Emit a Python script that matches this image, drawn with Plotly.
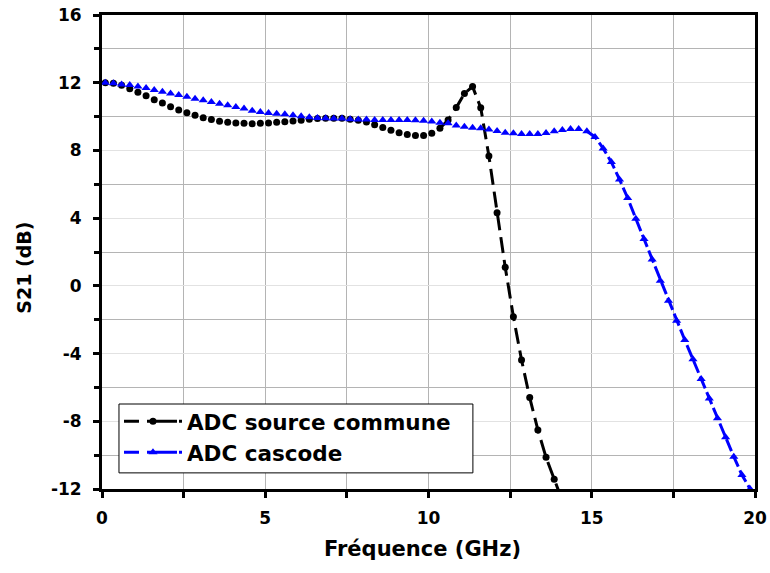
import plotly.graph_objects as go

# Frequency (GHz) sample points
freq_cs = [0.1, 0.35, 0.6, 0.85, 1.1, 1.35, 1.6, 1.85, 2.1, 2.35, 2.6, 2.85, 3.1, 3.35, 3.6, 3.85,
           4.1, 4.35, 4.6, 4.85, 5.1, 5.35, 5.6, 5.85, 6.1, 6.35, 6.6, 6.85, 7.1, 7.35, 7.6, 7.85,
           8.1, 8.35, 8.6, 8.85, 9.1, 9.35, 9.6, 9.85, 10.1, 10.35, 10.6, 10.85, 11.1, 11.35, 11.6,
           11.85, 12.1, 12.35, 12.6, 12.85, 13.1, 13.35, 13.6, 13.85, 14.1]
s21_cs = [12.0, 11.97, 11.85, 11.65, 11.43, 11.23, 11.0, 10.8, 10.58, 10.39, 10.23, 10.08, 9.93, 9.82,
          9.72, 9.66, 9.62, 9.6, 9.58, 9.6, 9.62, 9.66, 9.7, 9.74, 9.78, 9.84, 9.88, 9.9, 9.9, 9.9,
          9.84, 9.78, 9.68, 9.52, 9.35, 9.19, 9.05, 8.94, 8.88, 8.88, 9.02, 9.31, 9.8, 10.53, 11.36,
          11.77, 10.52, 7.67, 4.32, 1.10, -1.82, -4.38, -6.6, -8.51, -10.13, -11.43, -12.7]

freq_cc = [0.1, 0.35, 0.6, 0.85, 1.1, 1.35, 1.6, 1.85, 2.1, 2.35, 2.6, 2.85, 3.1, 3.35, 3.6, 3.85,
           4.1, 4.35, 4.6, 4.85, 5.1, 5.35, 5.6, 5.85, 6.1, 6.35, 6.6, 6.85, 7.1, 7.35, 7.6, 7.85,
           8.1, 8.35, 8.6, 8.85, 9.1, 9.35, 9.6, 9.85, 10.1, 10.35, 10.6, 10.85, 11.1, 11.35, 11.6,
           11.85, 12.1, 12.35, 12.6, 12.85, 13.1, 13.35, 13.6, 13.85, 14.1, 14.35, 14.6, 14.85,
           15.1, 15.35, 15.6, 15.85, 16.1, 16.35, 16.6, 16.85, 17.1, 17.35, 17.6, 17.85, 18.1,
           18.35, 18.6, 18.85, 19.1, 19.35, 19.6, 19.85, 20.1]
s21_cc = [12.0, 11.97, 11.9, 11.86, 11.78, 11.69, 11.57, 11.47, 11.37, 11.27, 11.17, 11.06, 10.96,
          10.86, 10.76, 10.67, 10.57, 10.47, 10.35, 10.27, 10.21, 10.17, 10.13, 10.08, 10.02, 9.96,
          9.92, 9.9, 9.88, 9.88, 9.84, 9.82, 9.82, 9.8, 9.8, 9.8, 9.8, 9.8, 9.78, 9.75, 9.71, 9.64,
          9.6, 9.47, 9.4, 9.34, 9.31, 9.23, 9.15, 9.05, 9.01, 8.97, 8.97, 8.97, 9.03, 9.13, 9.21,
          9.27, 9.27, 9.13, 8.8, 8.12, 7.31, 6.29, 5.19, 3.97, 2.77, 1.55, 0.3, -0.88, -2.06, -3.2,
          -4.34, -5.5, -6.66, -7.82, -8.95, -10.09, -11.17, -12.0, -13.2]

names = ["ADC source commune", "ADC cascode"]
colors = ["#000000", "#0000ff"]

x_tickvals = [0, 5, 10, 15, 20]
x_ticktext = ["0", "5", "10", "15", "20"]
y_tickvals = [-12, -8, -4, 0, 4, 8, 12, 16]
y_ticktext = ["-12", "-8", "-4", "0", "4", "8", "12", "16"]

# index where the connecting line becomes visible (symbol gap hides it before)
line_start_cs = 41
line_start_cc = 59

FONT = "DejaVu Sans"

fig = go.Figure()

# dashed connecting lines
fig.add_trace(go.Scatter(x=freq_cs[line_start_cs:], y=s21_cs[line_start_cs:], mode="lines",
                         line=dict(color=colors[0], width=3, dash="16px,7px"),
                         showlegend=False, hoverinfo="skip"))
fig.add_trace(go.Scatter(x=freq_cc[line_start_cc:], y=s21_cc[line_start_cc:], mode="lines",
                         line=dict(color=colors[1], width=3, dash="13px,4px"),
                         showlegend=False, hoverinfo="skip"))
# markers
fig.add_trace(go.Scatter(x=freq_cs, y=s21_cs, mode="markers",
                         marker=dict(symbol="circle", size=7, color=colors[0]),
                         showlegend=False))
fig.add_trace(go.Scatter(x=freq_cc, y=s21_cc, mode="markers",
                         marker=dict(symbol="triangle-up", size=8, color=colors[1]),
                         showlegend=False))
# legend entries
fig.add_trace(go.Scatter(x=[None], y=[None], mode="lines+markers", name=names[0],
                         line=dict(color=colors[0], width=3, dash="15px,8px,30px,2px"),
                         marker=dict(symbol="circle", size=7, color=colors[0])))
fig.add_trace(go.Scatter(x=[None], y=[None], mode="lines+markers", name=names[1],
                         line=dict(color=colors[1], width=3, dash="15px,8px,30px,2px"),
                         marker=dict(symbol="triangle-up", size=8, color=colors[1])))

fig.update_layout(
    width=770, height=573,
    margin=dict(l=102, r=15, t=15, b=84, autoexpand=False),
    paper_bgcolor="white", plot_bgcolor="white",
    font=dict(family=FONT, color="black"),
    legend=dict(x=0.026, y=0.186, xanchor="left", yanchor="top",
                bgcolor="rgba(0,0,0,0)", borderwidth=0,
                font=dict(family=FONT, size=21.5, color="black", weight="bold"),
                itemwidth=58),
    shapes=[dict(type="rect", xref="paper", yref="paper", x0=0.026, x1=0.568, y0=0.034, y1=0.1793,
                 fillcolor="white", line=dict(color="black", width=1), layer="above")],
    annotations=[
        dict(text="Fréquence (GHz)", xref="paper", yref="paper", x=0.491, y=-0.1266,
             xanchor="center", yanchor="middle", showarrow=False,
             font=dict(family=FONT, size=21, color="black", weight="bold")),
        dict(text="S21 (dB)", xref="paper", yref="paper", x=-0.1194, y=0.467,
             xanchor="center", yanchor="middle", showarrow=False, textangle=-90,
             font=dict(family=FONT, size=19, color="black", weight="bold")),
    ],
)

fig.update_xaxes(range=[0, 20], tickmode="array", tickvals=x_tickvals, ticktext=x_ticktext,
                 automargin=False,
                 showgrid=True, gridcolor="#b4b4b4", gridwidth=1,
                 showline=True, linecolor="black", linewidth=3, mirror=True,
                 ticks="outside", ticklen=6, tickwidth=2.5, tickcolor="black",
                 tickfont=dict(family=FONT, size=17, color="black", weight="bold"),
                 ticklabelstandoff=6,
                 minor=dict(dtick=2.5, tick0=0, showgrid=True, gridcolor="#b4b4b4", gridwidth=1,
                            ticks="outside", ticklen=6, tickwidth=2.5, tickcolor="black"),
                 zeroline=False)
fig.update_yaxes(range=[-12, 16], tickmode="array", tickvals=y_tickvals, ticktext=y_ticktext,
                 automargin=False,
                 showgrid=True, gridcolor="#e2e2e2", gridwidth=1,
                 showline=True, linecolor="black", linewidth=3, mirror=True,
                 ticks="outside", ticklen=6, tickwidth=2.5, tickcolor="black",
                 tickfont=dict(family=FONT, size=17, color="black", weight="bold"),
                 ticklabelstandoff=8,
                 minor=dict(dtick=2, tick0=0, showgrid=True, gridcolor="#b4b4b4", gridwidth=1,
                            ticks="outside", ticklen=5, tickwidth=2.5, tickcolor="black"),
                 zeroline=False)

fig.write_html("out.html", config={"displayModeBar": False},
               post_script="document.body.style.margin='0px';")
